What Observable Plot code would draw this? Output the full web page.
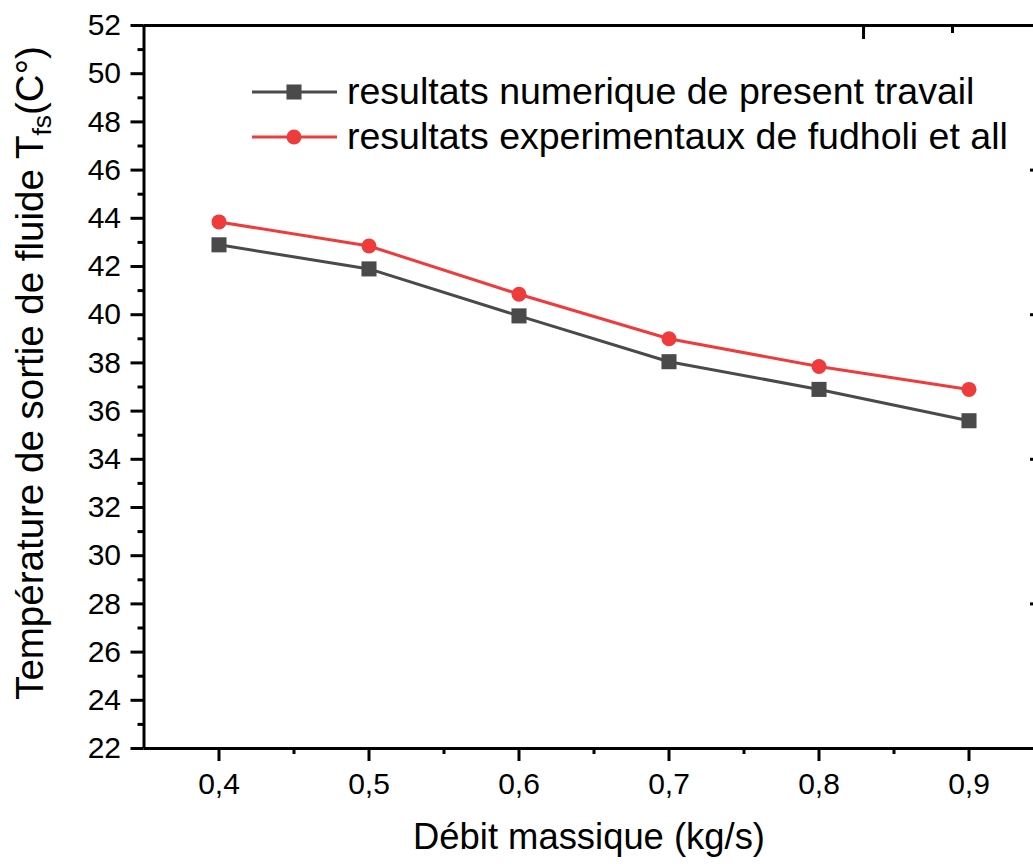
<!DOCTYPE html>
<html><head><meta charset="utf-8">
<script src="https://cdn.jsdelivr.net/npm/d3@7"></script>
<script src="https://cdn.jsdelivr.net/npm/@observablehq/plot@0.6"></script>
<style>body{margin:0;background:#fff;} #chart svg{display:block;}</style>
</head><body><div id="chart"></div>
<script>
// ---- data ----
const massFlow = [0.4, 0.5, 0.6, 0.7, 0.8, 0.9];
const numerical = [42.9, 41.9, 39.95, 38.05, 36.9, 35.6];
const experimental = [43.85, 42.85, 40.85, 39.0, 37.85, 36.9];
const seriesNames = ["resultats numerique de present travail", "resultats experimentaux de fudholi et all"];
const seriesColors = ["#4a4a4a", "#ef3b3b"];
const seriesSymbols = ["square", "circle"];
const yMajorTicks = [22, 24, 26, 28, 30, 32, 34, 36, 38, 40, 42, 44, 46, 48, 50, 52];
const yMinorTicks = [23, 25, 27, 29, 31, 33, 35, 37, 39, 41, 43, 45, 47, 49, 51];
const xMajorTicks = [0.4, 0.5, 0.6, 0.7, 0.8, 0.9];
const xTickLabels = ["0,4", "0,5", "0,6", "0,7", "0,8", "0,9"];
const xMinorTicks = [0.45, 0.55, 0.65, 0.75, 0.85];
const topMajorTicks = [0.8297];
const topMinorTicks = [0.889];
const rightTicks = [28, 34, 40, 46];
const xTitle = "Débit massique (kg/s)";
const yTitleMain = "Température de sortie de fluide T";
const yTitleSub = "fs";
const yTitleEnd = "(C°)";

const rows = [];
massFlow.forEach((x, i) => {
  rows.push({x, y: numerical[i], s: 0});
  rows.push({x, y: experimental[i], s: 1});
});
const FONT = "'Liberation Sans', Arial, sans-serif";
const blank = () => "";

const chart = Plot.plot({
  width: 1033, height: 864,
  marginLeft: 143.5, marginRight: 0, marginTop: 25, marginBottom: 116,
  style: {fontFamily: FONT, color: "black", background: "white", fontSize: "30px"},
  x: {domain: [0.35, 0.95], range: [143.5, 1043.5]},
  y: {domain: [22, 52]},
  marks: [
    Plot.ruleY([22, 52], {stroke: "black", strokeWidth: 3}),
    Plot.ruleX([0.35], {stroke: "black", strokeWidth: 3}),
    Plot.axisY({ticks: yMajorTicks, tickSize: 13, tickPadding: 10, strokeWidth: 3, fontSize: 30, label: null, tickFormat: d => String(d)}),
    Plot.axisY({ticks: yMinorTicks, tickSize: 6, strokeWidth: 3, label: null, tickFormat: blank}),
    Plot.axisY({anchor: "right", ticks: rightTicks, tickSize: -4, strokeWidth: 3, label: null, tickFormat: blank}),
    Plot.axisX({ticks: xMajorTicks, tickSize: 13, tickPadding: 11, strokeWidth: 3, fontSize: 30, label: null,
      tickFormat: d => xTickLabels[xMajorTicks.indexOf(d)]}),
    Plot.axisX({ticks: xMinorTicks, tickSize: 6, strokeWidth: 3, label: null, tickFormat: blank}),
    Plot.axisX({anchor: "top", ticks: topMajorTicks, tickSize: -13, strokeWidth: 3, label: null, tickFormat: blank}),
    Plot.axisX({anchor: "top", ticks: topMinorTicks, tickSize: -7, strokeWidth: 3, label: null, tickFormat: blank}),
    Plot.line(rows.filter(d => d.s === 0), {x: "x", y: "y", stroke: seriesColors[0], strokeWidth: 3}),
    Plot.line(rows.filter(d => d.s === 1), {x: "x", y: "y", stroke: seriesColors[1], strokeWidth: 3}),
    Plot.dot(rows.filter(d => d.s === 0), {x: "x", y: "y", fill: seriesColors[0], symbol: "square", r: 8.5}),
    Plot.dot(rows.filter(d => d.s === 1), {x: "x", y: "y", fill: seriesColors[1], symbol: "circle", r: 7.5})
  ]
});
document.getElementById("chart").appendChild(chart);

const svg = d3.select(chart);
// x title
svg.append("text").attr("x", 589).attr("y", 849).attr("text-anchor", "middle")
  .attr("font-family", FONT).attr("font-size", 36.4).attr("fill", "black").text(xTitle);
// y title with subscript
const yt = svg.append("text").attr("transform", "translate(43,373) rotate(-90)").attr("text-anchor", "middle")
  .attr("font-family", FONT).attr("font-size", 38.5).attr("fill", "black");
yt.append("tspan").text(yTitleMain);
yt.append("tspan").attr("dy", 8).attr("font-size", 26.5).text(yTitleSub);
yt.append("tspan").attr("dy", -8).text(yTitleEnd);

// legend
const leg = svg.append("g");
seriesNames.forEach((name, i) => {
  const cy = 92 + i * 45;
  leg.append("line").attr("x1", 252).attr("x2", 337).attr("y1", cy).attr("y2", cy)
    .attr("stroke", seriesColors[i]).attr("stroke-width", 3);
  const sym = d3.symbol().type(seriesSymbols[i] === "square" ? d3.symbolSquare : d3.symbolCircle)
    .size(seriesSymbols[i] === "square" ? Math.PI * 8.5 * 8.5 : Math.PI * 7.5 * 7.5);
  leg.append("path").attr("d", sym()).attr("transform", `translate(294,${cy})`).attr("fill", seriesColors[i]);
  leg.append("text").attr("x", 347).attr("y", cy + 12).attr("text-anchor", "start")
    .attr("font-family", FONT).attr("font-size", 37.5).attr("fill", "black").text(name);
});
</script>
</body></html>
